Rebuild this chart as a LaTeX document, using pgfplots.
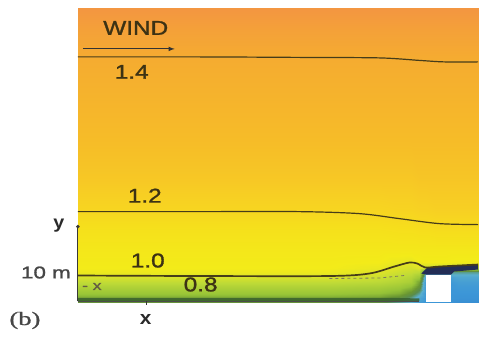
\documentclass[border=0pt]{standalone}
\usepackage{pgfplots}
\pgfplotsset{compat=1.18}
\usepackage{pgfplotstable}
\usepackage{fontspec}
\setmainfont{Liberation Sans}
\newfontfamily\labfont{Liberation Sans}[FakeBold=1.2]
\newfontfamily\serifb{Liberation Serif}[FakeBold=0.8]
\definecolor{txt}{RGB}{60,50,20}
\definecolor{cline}{RGB}{70,60,25}
\definecolor{ground}{RGB}{55,95,45}
\definecolor{navy}{RGB}{35,45,85}
\definecolor{gray1}{RGB}{70,70,70}
\tikzset{lab/.style={font=\labfont\fontsize{20}{20}\selectfont, text=txt, xscale=1.22, inner sep=0pt}}
% rows: y (=337-pixel y); columns: x positions
\pgfplotstableread{
x y c
78 34 0.60
200 34 0.60
330 34 0.60
380 34 0.58
400 34 0.50
412 34 0.45
420 34 0.35
427 34 0.30
437 34 0.30
447 34 0.30
460 34 0.25
479 34 0.25
78 38 0.66
200 38 0.66
330 38 0.66
380 38 0.64
400 38 0.58
412 38 0.50
420 38 0.40
427 38 0.30
437 38 0.30
447 38 0.30
460 38 0.28
479 38 0.28
78 43 0.74
200 43 0.74
330 43 0.74
380 43 0.72
400 43 0.68
412 43 0.60
420 43 0.50
427 43 0.30
437 43 0.30
447 43 0.30
460 43 0.30
479 43 0.30
78 49 0.80
200 49 0.80
330 49 0.80
380 49 0.78
400 49 0.75
412 49 0.70
420 49 0.60
427 49 0.30
437 49 0.30
447 49 0.30
460 49 0.32
479 49 0.32
78 55 0.86
200 55 0.86
330 55 0.86
380 55 0.84
400 55 0.81
412 55 0.78
420 55 0.65
427 55 0.30
437 55 0.30
447 55 0.30
460 55 0.35
479 55 0.35
78 60 0.93
200 60 0.93
330 60 0.93
380 60 0.89
400 60 0.85
412 60 0.82
420 60 0.75
427 60 0.35
437 60 0.35
447 60 0.35
460 60 0.40
479 60 0.40
78 65 1.00
200 65 1.00
330 65 1.00
380 65 0.95
400 65 0.90
412 65 0.88
420 65 0.85
427 65 0.50
437 65 0.50
447 65 0.50
460 65 0.50
479 65 0.50
78 69 1.02
200 69 1.02
330 69 1.02
380 69 0.99
400 69 0.94
412 69 0.92
420 69 0.95
427 69 0.88
437 69 0.88
447 69 0.88
460 69 0.85
479 69 0.85
78 75 1.03
200 75 1.03
330 75 1.03
380 75 1.02
400 75 0.99
412 75 0.98
420 75 1.01
427 75 1.02
437 75 1.02
447 75 1.02
460 75 1.01
479 75 1.01
78 87 1.05
200 87 1.05
330 87 1.05
380 87 1.05
400 87 1.05
412 87 1.05
420 87 1.05
427 87 1.05
437 87 1.05
447 87 1.05
460 87 1.05
479 87 1.05
78 107 1.10
200 107 1.10
330 107 1.10
380 107 1.10
400 107 1.11
412 107 1.11
420 107 1.12
427 107 1.12
437 107 1.13
447 107 1.13
460 107 1.13
479 107 1.13
78 127 1.17
200 127 1.17
330 127 1.17
380 127 1.17
400 127 1.18
412 127 1.18
420 127 1.19
427 127 1.19
437 127 1.20
447 127 1.20
460 127 1.20
479 127 1.20
78 157 1.24
200 157 1.24
330 157 1.24
380 157 1.24
400 157 1.24
412 157 1.24
420 157 1.25
427 157 1.25
437 157 1.25
447 157 1.25
460 157 1.25
479 157 1.25
78 197 1.30
200 197 1.30
330 197 1.30
380 197 1.30
400 197 1.30
412 197 1.30
420 197 1.30
427 197 1.30
437 197 1.30
447 197 1.30
460 197 1.30
479 197 1.30
78 237 1.35
200 237 1.35
330 237 1.35
380 237 1.35
400 237 1.35
412 237 1.35
420 237 1.35
427 237 1.35
437 237 1.35
447 237 1.35
460 237 1.35
479 237 1.35
78 277 1.40
200 277 1.40
330 277 1.40
380 277 1.40
400 277 1.40
412 277 1.40
420 277 1.40
427 277 1.40
437 277 1.40
447 277 1.40
460 277 1.40
479 277 1.40
78 307 1.45
200 307 1.45
330 307 1.45
380 307 1.45
400 307 1.45
412 307 1.45
420 307 1.45
427 307 1.45
437 307 1.45
447 307 1.45
460 307 1.45
479 307 1.45
78 329 1.50
200 329 1.50
330 329 1.50
380 329 1.50
400 329 1.50
412 329 1.50
420 329 1.50
427 329 1.50
437 329 1.50
447 329 1.50
460 329 1.50
479 329 1.50
}\field
\begin{document}
\begin{tikzpicture}
\begin{axis}[
  width=479pt, height=337pt, scale only axis,
  xmin=0, xmax=479, ymin=0, ymax=337,
  hide axis, clip=false, view={0}{90},
  point meta min=0, point meta max=1.5,
  colormap={wind}{
    rgb255(0cm)=(40,110,190);
    rgb255(3cm)=(60,150,215);
    rgb255(4.5cm)=(90,175,205);
    rgb255(5.5cm)=(90,140,75);
    rgb255(6.2cm)=(105,150,50);
    rgb255(7.2cm)=(150,195,55);
    rgb255(8.5cm)=(190,218,55);
    rgb255(9.5cm)=(222,228,40);
    rgb255(10.2cm)=(243,235,25);
    rgb255(11.2cm)=(246,222,28);
    rgb255(12cm)=(247,208,35);
    rgb255(13cm)=(246,188,40);
    rgb255(14cm)=(245,172,48);
    rgb255(15cm)=(243,150,65)},
]
\addplot[draw=none, fill=white] coordinates {(0,0) (479,0) (479,337) (0,337)} -- cycle;
\addplot3[surf, shader=interp, mesh/cols=12, mesh/ordering=x varies, point meta=explicit]
  table[x=x, y=y, z expr=0, meta=c] {\field};
% ground strip
\addplot[ground, line width=3pt, opacity=0.85] coordinates {(78,37) (250,37) (400,37) (420,36.5)};
\addplot[black!70, line width=1pt] coordinates {(78,35) (250,35) (400,35) (420,35)};
% building
\addplot[fill=white, draw=none] coordinates {(427,34) (452,34) (452,62) (427,62)} -- cycle;
\addplot[fill=navy, draw=none] coordinates {(422,63) (428,69) (445,70) (479,72) (479,67) (455,65) (452,62) (427,62)} -- cycle;
% contour lines
\addplot[cline, line width=1.2pt, smooth] coordinates {(78,280) (200,280) (300,279.5) (380,279) (420,276.5) (445,275) (479,275)};
\addplot[cline, line width=1.2pt, smooth] coordinates {(78,125) (200,125) (300,125) (360,123) (400,118) (440,113) (479,112)};
\addplot[cline, line width=1.7pt, smooth] coordinates {(78,61) (200,60.5) (330,60.5) (370,63) (395,70) (410,74) (418,73) (426,69) (440,70) (479,72)};
\addplot[cline!70, line width=0.8pt, dashed] coordinates {(330,58) (380,58.5) (405,61)};
% axes
\addplot[gray1!80!black, line width=1.2pt] coordinates {(78,35) (78,110)};
\addplot[gray1!80!black, only marks, mark=*, mark size=1.6pt] coordinates {(78,110)};
\addplot[gray1!80!black, line width=1.4pt] coordinates {(147,35) (147,31)};
% wind arrow
\addplot[black!80, line width=1.1pt, -latex] coordinates {(83,288) (175,288)};
% labels
\node[lab] at (axis cs:136,309) {WIND};
\node[lab] at (axis cs:132,265) {1.4};
\node[lab] at (axis cs:145,141) {1.2};
\node[lab] at (axis cs:148,76) {1.0};
\node[lab] at (axis cs:201,52) {0.8};
\node[lab, font=\labfont\fontsize{13}{13}\selectfont, text=txt!80, xscale=1.1] at (axis cs:92,50) {- x};
\node[lab, font=\bfseries\fontsize{18}{18}\selectfont, text=gray1!60!black, xscale=0.9] at (axis cs:59,111) {y};
\node[lab, font=\labfont\fontsize{17}{17}\selectfont, text=gray1, xscale=1.08] at (axis cs:46,64) {10 m};
\node[lab, font=\bfseries\fontsize{19}{19}\selectfont, text=gray1!60!black, xscale=0.9] at (axis cs:146,17) {x};
\node[lab, font=\serifb\fontsize{19}{19}\selectfont, text=gray1, xscale=1.15] at (axis cs:25,16) {(b)};
\end{axis}
\end{tikzpicture}
\end{document}
